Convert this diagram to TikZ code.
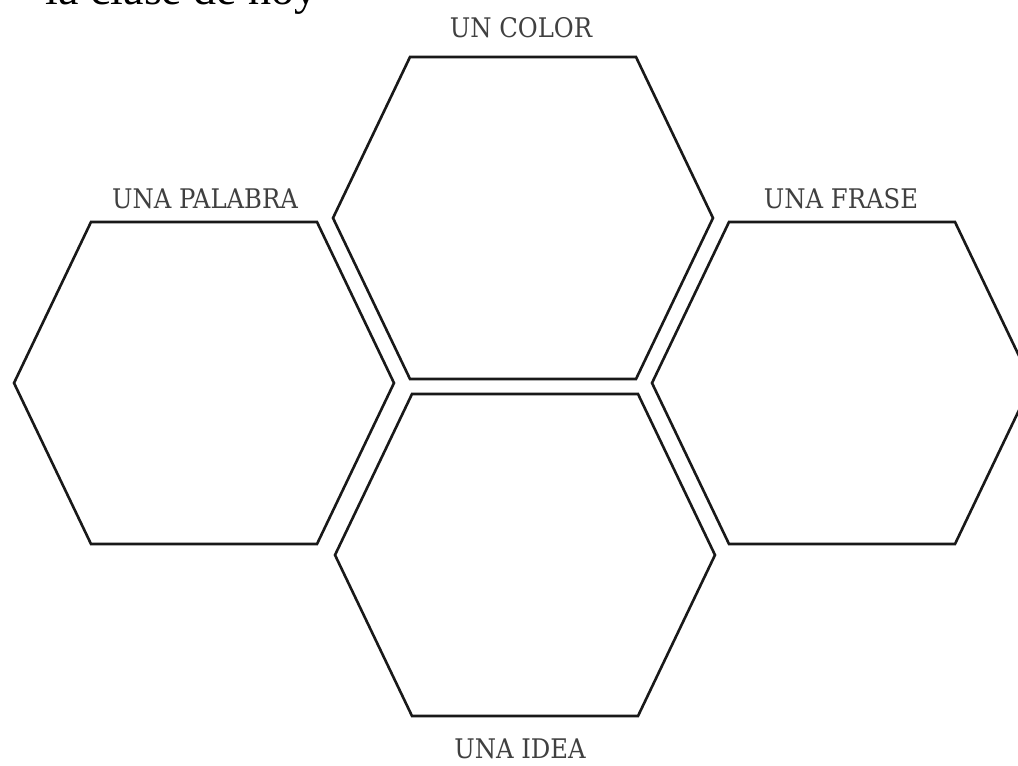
\documentclass[tikz,border=0pt]{standalone}
\usepackage{fontspec}
\newfontfamily\labelfont{DejaVu Serif Condensed}
\newfontfamily\headfont{Liberation Serif}
\tikzset{
  hexline/.style={draw=black!90, line width=2.6pt, line join=miter},
  hexa/.pic={\draw[hexline] (-113,-161) -- (113,-161) -- (190,0) -- (113,161) -- (-113,161) -- (-190,0) -- cycle;},
  lbl/.style={font=\labelfont\fontsize{27}{27}\selectfont, text=black!75, inner sep=0pt},
}
\begin{document}
\begin{tikzpicture}[x=1pt,y=-1pt]
\useasboundingbox (0,0) rectangle (1018,766);
\fill[white] (0,0) rectangle (1018,766);
\begin{scope}
\clip (0,0) rectangle (1018,766);
\node[anchor=base east, inner sep=0pt, font=\headfont\fontsize{46}{46}\selectfont] (head) at (318,4) {la clase de hoy};
\pic (color) at (523,218) {hexa};
\pic (idea) at (525,555) {hexa};
\pic (palabra) at (204,383) {hexa};
\pic (frase) at (842,383) {hexa};
\end{scope}
\node[lbl] (tcolor) at (521,28) {UN COLOR};
\node[lbl] (tpalabra) at (205,199) {UNA PALABRA};
\node[lbl] (tfrase) at (841,199) {UNA FRASE};
\node[lbl] (tidea) at (520,749) {UNA IDEA};
\end{tikzpicture}
\end{document}
